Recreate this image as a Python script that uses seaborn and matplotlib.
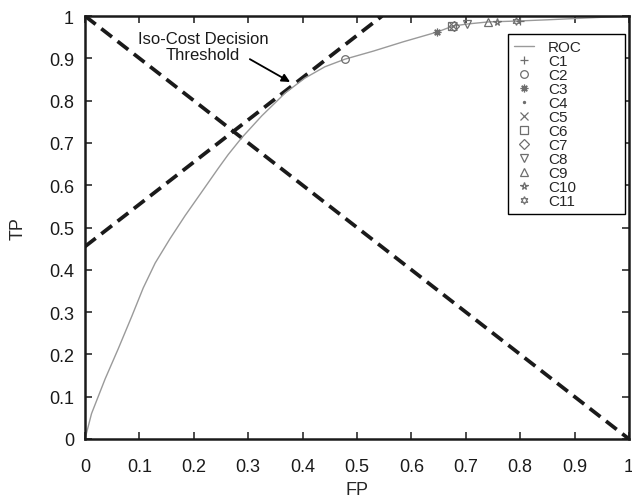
import matplotlib
matplotlib.use('Agg')
import matplotlib.pyplot as plt
import seaborn as sns

sns.set_style('ticks')
plt.rcParams['font.family'] = ['Liberation Sans', 'DejaVu Sans']

# ROC curve
roc_fp = [0.0, 0.012, 0.037, 0.061, 0.086, 0.107, 0.129, 0.156, 0.184, 0.214, 0.245,
          0.263, 0.288, 0.325, 0.368, 0.404, 0.441, 0.478, 0.530, 0.585, 0.647, 0.676,
          0.702, 0.741, 0.792, 0.850, 0.900, 0.950, 1.0]
roc_tp = [0.0, 0.060, 0.142, 0.213, 0.290, 0.357, 0.416, 0.473, 0.528, 0.583, 0.640,
          0.672, 0.712, 0.764, 0.818, 0.853, 0.880, 0.898, 0.917, 0.939, 0.962, 0.976,
          0.981, 0.986, 0.988, 0.991, 0.994, 0.997, 1.0]

# dashed lines
iso_fp = [0.0, 0.546]
iso_tp = [0.455, 1.0]
diag_fp = [0.0, 1.0]
diag_tp = [1.0, 0.0]

# classifier operating points
clf_names = ['C1', 'C2', 'C3', 'C4', 'C5', 'C6', 'C7', 'C8', 'C9', 'C10', 'C11']
clf_fp = [0.800, 0.478, 0.647, 0.647, 0.677, 0.674, 0.679, 0.702, 0.741, 0.757, 0.792]
clf_tp = [0.989, 0.898, 0.962, 0.962, 0.976, 0.976, 0.977, 0.981, 0.986, 0.986, 0.987]
clf_markers = ['+', 'o', (8, 2, 0), '.', 'x', 's', 'D', 'v', '^', '*', (6, 1, 0)]

tick_vals = [0.0, 0.1, 0.2, 0.3, 0.4, 0.5, 0.6, 0.7, 0.8, 0.9, 1.0]
tick_labels = ['0', '0.1', '0.2', '0.3', '0.4', '0.5', '0.6', '0.7', '0.8', '0.9', '1']

fig = plt.figure(figsize=(6.32, 5.02), dpi=100)
ax = fig.add_axes([85 / 632, 62 / 502, 544 / 632, 423 / 502])

dash = (0, (3.6, 1.9))
sns.lineplot(x=iso_fp, y=iso_tp, ax=ax, color='#1a1a1a', lw=2.7, linestyle=dash, legend=False)
sns.lineplot(x=diag_fp, y=diag_tp, ax=ax, color='#1a1a1a', lw=2.7, linestyle=dash, legend=False)
sns.lineplot(x=roc_fp, y=roc_tp, ax=ax, color='#9a9a9a', lw=1.0, label='ROC', sort=False)

gray = '#6e6e6e'
for name, fp, tp, m in zip(clf_names, clf_fp, clf_tp, clf_markers):
    filled = m in ('.', (8, 2, 0))
    sns.lineplot(x=[fp], y=[tp], ax=ax, marker=m, linestyle='none', color=gray,
                 markersize=3 if m == '.' else 5.5, mew=0.9,
                 mfc=gray if filled else 'none', mec=gray, label=name)

ax.annotate('', xy=(0.377, 0.844), xytext=(0.303, 0.898),
            arrowprops=dict(arrowstyle='-|>', color='black', lw=1.3,
                            mutation_scale=12, shrinkA=0, shrinkB=0))
ax.text(0.217, 0.928, 'Iso-Cost Decision\nThreshold', ha='center', va='center',
        fontsize=12, linespacing=1.15, color='#1a1a1a')

ax.set_xlim(0, 1)
ax.set_ylim(0, 1)
ax.set_xticks(tick_vals)
ax.set_xticklabels(tick_labels)
ax.set_yticks(tick_vals)
ax.set_yticklabels(tick_labels)
ax.tick_params(direction='in', length=5, width=1.1, top=True, right=True,
               labelsize=13, colors='#1a1a1a')
ax.tick_params(axis='x', pad=14)
ax.tick_params(axis='y', pad=8)
for sp in ax.spines.values():
    sp.set_linewidth(1.8)
    sp.set_color('#1a1a1a')
ax.set_xlabel('FP', fontsize=13, labelpad=4)
ax.set_ylabel('TP', fontsize=13, labelpad=16)

leg = ax.legend(loc='upper left', bbox_to_anchor=(0.778, 0.0, 0.215, 0.957),
                mode='expand', borderaxespad=0,
                frameon=True, fancybox=False, edgecolor='black', framealpha=1,
                fontsize=11, labelspacing=0.0, handlelength=1.3,
                handletextpad=0.9, borderpad=0.4)
leg.get_frame().set_linewidth(1.0)

fig.savefig('out.png', dpi=100)
